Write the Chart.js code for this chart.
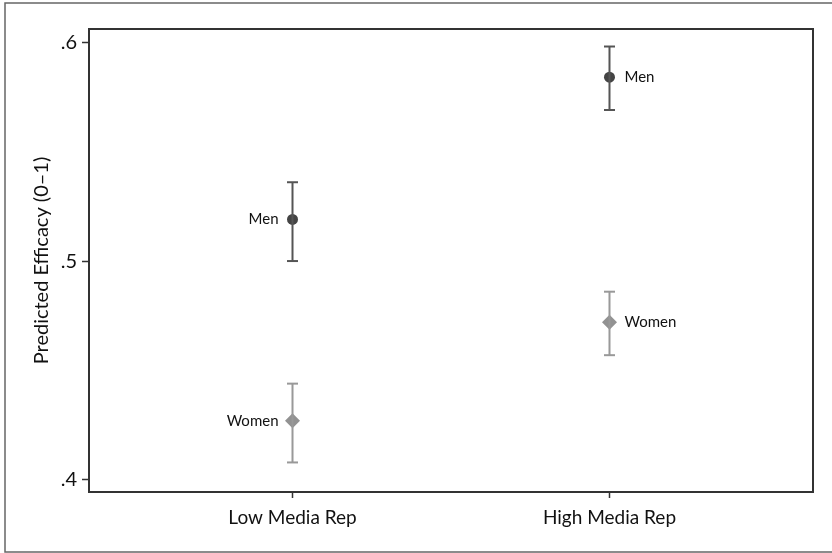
<!DOCTYPE html>
<html>
<head>
<meta charset="utf-8">
<script src="https://cdn.jsdelivr.net/npm/chart.js@4/dist/chart.umd.min.js"></script>
<style>
  html, body { margin: 0; padding: 0; background: #fff; }
  #wrap { width: 832px; height: 553px; }
</style>
</head>
<body>
<div id="wrap"><canvas id="myChart" width="832" height="553"></canvas></div>
<script>
// categories on the x axis (placed at x = 1, 2)
const mediaRep = ['Low Media Rep', 'High Media Rep'];
const catPos = [1, 2];

// predicted efficacy and CI bounds
const menEst = [0.519, 0.584];
const menLo = [0.500, 0.569];
const menHi = [0.536, 0.598];

const womenEst = [0.427, 0.472];
const womenLo = [0.408, 0.457];
const womenHi = [0.444, 0.486];

const yTicks = [0.4, 0.5, 0.6];

const FONT = 'Lato, "DejaVu Sans", sans-serif';

// build the error bar series: lo->hi segments, gap between categories
function ciData(lo, hi) {
    var out = [];
    catPos.forEach(function (x, i) {
        if (i > 0) out.push({ x: x - 0.5, y: null });
        out.push({ x: x, y: lo[i] });
        out.push({ x: x, y: hi[i] });
    });
    return out;
}
function ptData(est) {
    return catPos.map(function (x, i) { return { x: x, y: est[i] }; });
}

// frame around plot + outer border
const framePlugin = {
    id: 'frame',
    afterDraw: function (chart) {
        const c = chart.ctx, a = chart.chartArea;
        c.save();
        c.strokeStyle = '#333';
        c.lineWidth = 2;
        c.strokeRect(a.left, a.top, a.right - a.left, a.bottom - a.top);
        c.strokeStyle = '#666';
        c.lineWidth = 1.5;
        c.strokeRect(5, 3, 840, 549);
        c.restore();
    }
};

// "Men" / "Women" next to each marker
const labelPlugin = {
    id: 'pointLabels',
    afterDatasetsDraw: function (chart) {
        const c = chart.ctx;
        c.save();
        c.font = '15px ' + FONT;
        c.fillStyle = '#111';
        c.textBaseline = 'middle';
        chart.data.datasets.forEach(function (ds, di) {
            if (!ds.tag) return;
            chart.getDatasetMeta(di).data.forEach(function (pt, i) {
                if (i === 0) {
                    c.textAlign = 'right';
                    c.fillText(ds.tag, pt.x - 14, pt.y);
                } else {
                    c.textAlign = 'left';
                    c.fillText(ds.tag, pt.x + 15, pt.y);
                }
            });
        });
        c.restore();
    }
};

new Chart(document.getElementById('myChart').getContext('2d'), {
    type: 'scatter',
    data: {
        datasets: [
            {
                label: 'Men CI',
                data: ciData(menLo, menHi),
                showLine: true,
                spanGaps: false,
                borderColor: '#555',
                borderWidth: 2,
                pointStyle: 'line',
                pointRadius: 5.5,
                pointBorderColor: '#555',
                pointBorderWidth: 2
            },
            {
                label: 'Women CI',
                data: ciData(womenLo, womenHi),
                showLine: true,
                spanGaps: false,
                borderColor: '#999',
                borderWidth: 2,
                pointStyle: 'line',
                pointRadius: 5.5,
                pointBorderColor: '#999',
                pointBorderWidth: 2
            },
            {
                label: 'Men',
                tag: 'Men',
                data: ptData(menEst),
                pointStyle: 'circle',
                pointRadius: 5.5,
                backgroundColor: '#444',
                borderColor: '#444',
                borderWidth: 0
            },
            {
                label: 'Women',
                tag: 'Women',
                data: ptData(womenEst),
                pointStyle: 'rectRot',
                pointRadius: 7.5,
                backgroundColor: '#929292',
                borderColor: '#929292',
                borderWidth: 0
            }
        ]
    },
    options: {
        responsive: false,
        animation: false,
        layout: { padding: { left: 5, top: 29, right: 19, bottom: 0 } },
        plugins: {
            legend: { display: false },
            tooltip: { enabled: false }
        },
        scales: {
            x: {
                type: 'linear',
                min: 0.358,
                max: 2.642,
                afterBuildTicks: function (axis) {
                    axis.ticks = catPos.map(function (v) { return { value: v }; });
                },
                afterFit: function (axis) { axis.height = 61; },
                ticks: {
                    color: '#111',
                    font: { family: FONT, size: 19 },
                    padding: 8,
                    maxRotation: 0,
                    callback: function (v) { return mediaRep[catPos.indexOf(v)]; }
                },
                grid: {
                    drawOnChartArea: false,
                    drawTicks: true,
                    tickLength: 6,
                    tickColor: '#333',
                    tickWidth: 1.5
                },
                border: { display: false }
            },
            y: {
                min: 0.3945,
                max: 0.606,
                afterBuildTicks: function (axis) {
                    axis.ticks = yTicks.map(function (v) { return { value: v }; });
                },
                afterFit: function (axis) { axis.width = 84; },
                title: {
                    display: true,
                    text: 'Predicted Efficacy (0–1)',
                    color: '#111',
                    font: { family: FONT, size: 20 },
                    padding: { top: 25, bottom: 0 }
                },
                ticks: {
                    color: '#111',
                    font: { family: FONT, size: 20 },
                    padding: 5,
                    callback: function (v) { return String(v.toFixed(1)).replace(/^0/, ''); }
                },
                grid: {
                    drawOnChartArea: false,
                    drawTicks: true,
                    tickLength: 7,
                    tickColor: '#333',
                    tickWidth: 1.5
                },
                border: { display: false }
            }
        }
    },
    plugins: [framePlugin, labelPlugin]
});
</script>
</body>
</html>
